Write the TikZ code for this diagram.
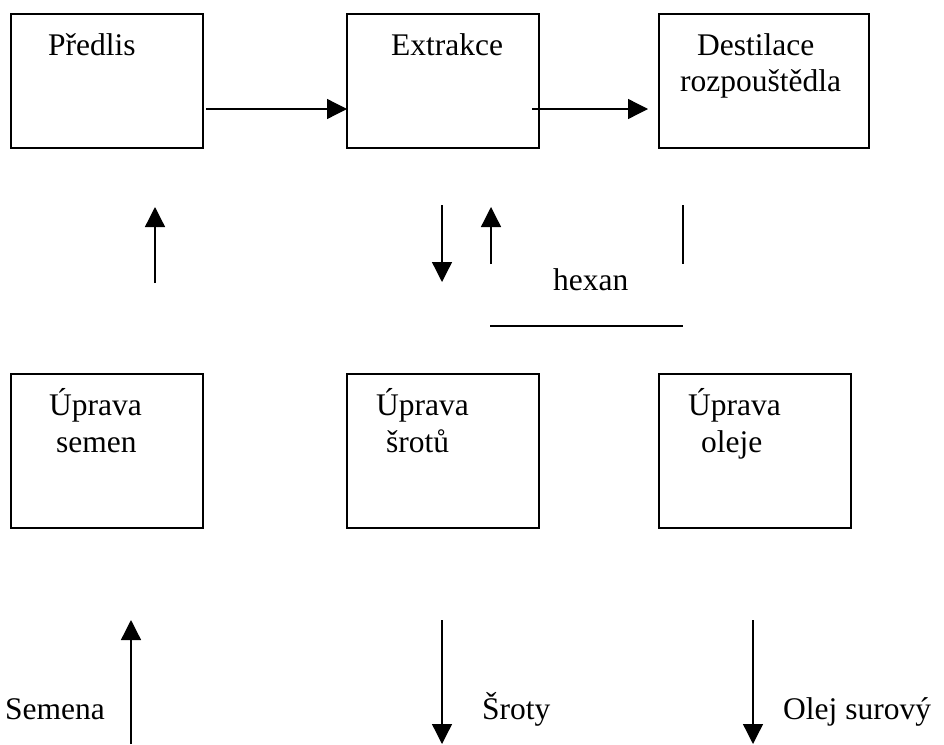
\documentclass[tikz,border=0pt]{standalone}
\usepackage{fontspec}
\setmainfont{Liberation Serif}
\usetikzlibrary{arrows.meta}
\begin{document}
\begin{tikzpicture}[x=1pt,y=-1pt,
  box/.style={draw,line width=1.6pt,inner sep=0pt,outer sep=0pt,anchor=north west},
  topbox/.style={box,minimum height=134pt},
  lowbox/.style={box,minimum width=192pt,minimum height=154pt},
  lbl/.style={anchor=base west,inner sep=0pt,font=\fontsize{31.5}{37}\selectfont},
  flow/.style={line width=1.3pt,-{Triangle[length=20pt,width=20pt]}},
  bar/.style={line width=1.3pt}]
\useasboundingbox (0,0) rectangle (944,744);

% process boxes
\node[topbox,minimum width=192pt] (predlis) at (11,14) {};
\node[topbox,minimum width=192pt] (extrakce) at (347,14) {};
\node[topbox,minimum width=210pt] (destilace) at (659,14) {};
\node[lowbox] (semen) at (11,374) {};
\node[lowbox] (srotu) at (347,374) {};
\node[lowbox] (oleje) at (659,374) {};

% box captions
\node[lbl] (tpredlis) at (48,55) {Předlis};
\node[lbl] (textrakce) at (391,55) {Extrakce};
\node[lbl] (tdest1) at (697,55) {Destilace};
\node[lbl] (tdest2) at (680,91) {rozpouštědla};
\node[lbl] (tsem1) at (49,415) {Úprava};
\node[lbl] (tsem2) at (56,452) {semen};
\node[lbl] (tsro1) at (376,415) {Úprava};
\node[lbl] (tsro2) at (386,452) {šrotů};
\node[lbl] (tole1) at (688,415) {Úprava};
\node[lbl] (tole2) at (701,452) {oleje};

% stream labels
\node[lbl] (hexan) at (553,290) {hexan};
\node[lbl] (semena) at (5,719) {Semena};
\node[lbl] (sroty) at (482,719) {Šroty};
\node[lbl] (olej) at (783,719) {Olej surový};

% connector end points
\coordinate (p1) at (206,109);
\coordinate (e1) at (532,109);
\coordinate (d1) at (648,109);
\coordinate (u1a) at (155,283);
\coordinate (u1b) at (155,207);
\coordinate (x1a) at (442,205);
\coordinate (x1b) at (442,282);
\coordinate (x2a) at (491,264);
\coordinate (x2b) at (491,207);
\coordinate (h1a) at (683,205);
\coordinate (h1b) at (683,264);
\coordinate (h2a) at (490,326);
\coordinate (h2b) at (683,326);
\coordinate (s1a) at (131,744);
\coordinate (s1b) at (131,620);
\coordinate (s2a) at (442,620);
\coordinate (s2b) at (442,744);
\coordinate (s3a) at (753,620);
\coordinate (s3b) at (753,744);

% flows
\draw[flow] (p1) -- (extrakce.west |- p1);
\draw[flow] (e1) -- (d1);
\draw[flow] (u1a) -- (u1b);
\draw[flow] (x1a) -- (x1b);
\draw[flow] (x2a) -- (x2b);
\draw[bar] (h1a) -- (h1b);
\draw[bar] (h2a) -- (h2b);
\draw[flow] (s1a) -- (s1b);
\draw[flow] (s2a) -- (s2b);
\draw[flow] (s3a) -- (s3b);
\end{tikzpicture}
\end{document}
